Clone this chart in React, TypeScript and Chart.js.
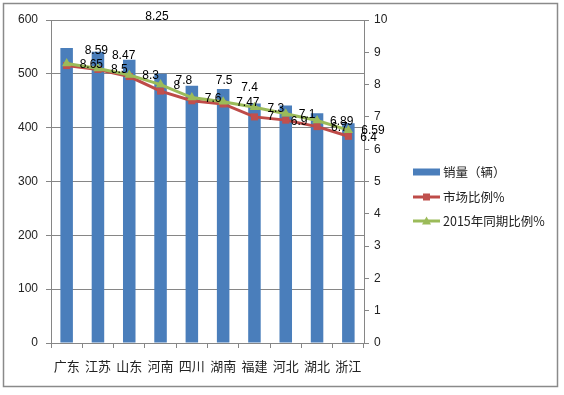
import React, { useEffect, useRef } from "react";
import { Chart, registerables } from "chart.js";

Chart.register(...registerables);

const categories = ["广东", "江苏", "山东", "河南", "四川", "湖南", "福建", "河北", "湖北", "浙江"];
const sales = [548, 541, 526, 500, 478, 472, 445, 441, 427, 408];
const marketShare = [8.59, 8.47, 8.25, 7.8, 7.5, 7.4, 7, 6.9, 6.7, 6.4];
const share2015 = [8.65, 8.5, 8.3, 8, 7.6, 7.47, 7.3, 7.1, 6.89, 6.59];
const seriesNames = ["销量（辆）", "市场比例%", "2015年同期比例%"];

const BLUE = "#4a7ebb";
const RED = "#be4b48";
const GREEN = "#9bbb59";

// label placement (offsets from each point) for the market share labels
const redLabelShift: [number, number][] = [
  [18, -15], [14, -14], [16, -60], [15, -10], [24, -20],
  [18, -16], [13, 0], [5, 2], [14, 1], [12, 1],
];

const frame = {
  id: "frame",
  beforeDraw(chart: any) {
    const { ctx, width, height } = chart;
    ctx.save();
    ctx.fillStyle = "#ffffff";
    ctx.fillRect(0, 0, width, height);
    ctx.strokeStyle = "#8a8a8a";
    ctx.lineWidth = 1.5;
    ctx.strokeRect(3.5, 3.5, 554, 383);
    ctx.restore();
  },
};

const pointLabels = {
  id: "pointLabels",
  afterDatasetsDraw(chart: any) {
    const ctx = chart.ctx;
    ctx.save();
    ctx.font = "12px 'Liberation Sans', Arial, sans-serif";
    ctx.fillStyle = "#000";
    ctx.textAlign = "left";
    ctx.textBaseline = "middle";
    const metaGreen = chart.getDatasetMeta(2);
    metaGreen.data.forEach((p: any, i: number) => {
      ctx.fillText(String(share2015[i]), p.x + 13, p.y + 1);
    });
    const metaRed = chart.getDatasetMeta(1);
    metaRed.data.forEach((p: any, i: number) => {
      const [dx, dy] = redLabelShift[i];
      ctx.fillText(String(marketShare[i]), p.x + dx, p.y + dy);
    });
    ctx.restore();
  },
};

const customLegend = {
  id: "customLegend",
  afterDraw(chart: any) {
    const ctx = chart.ctx;
    ctx.save();
    const x0 = 413;
    const ys = [172, 197, 221];
    ctx.font = "12.5px 'Noto Sans CJK SC', sans-serif";
    ctx.textBaseline = "middle";
    ctx.textAlign = "left";
    ctx.fillStyle = BLUE;
    ctx.fillRect(x0, ys[0] - 3.5, 27, 7);
    ctx.strokeStyle = RED;
    ctx.lineWidth = 3;
    ctx.beginPath();
    ctx.moveTo(x0, ys[1]);
    ctx.lineTo(x0 + 27, ys[1]);
    ctx.stroke();
    ctx.fillStyle = "#c0504d";
    ctx.fillRect(x0 + 10, ys[1] - 3.5, 7, 7);
    ctx.strokeStyle = GREEN;
    ctx.beginPath();
    ctx.moveTo(x0, ys[2]);
    ctx.lineTo(x0 + 27, ys[2]);
    ctx.stroke();
    ctx.fillStyle = GREEN;
    ctx.beginPath();
    ctx.moveTo(x0 + 13.5, ys[2] - 4.5);
    ctx.lineTo(x0 + 18, ys[2] + 3.5);
    ctx.lineTo(x0 + 9, ys[2] + 3.5);
    ctx.closePath();
    ctx.fill();
    ctx.fillStyle = "#222";
    seriesNames.forEach((n, i) => ctx.fillText(n, x0 + 30, ys[i]));
    ctx.restore();
  },
};

export default function App() {
  const ref = useRef<HTMLCanvasElement>(null);
  useEffect(() => {
    document.body.style.margin = "0";
    const chart = new Chart(ref.current!, {
      type: "bar",
      data: {
        labels: categories,
        datasets: [
          {
            type: "bar",
            label: seriesNames[0],
            data: sales,
            backgroundColor: BLUE,
            yAxisID: "y",
            order: 3,
            barPercentage: 0.4,
            categoryPercentage: 1,
          },
          {
            type: "line",
            label: seriesNames[1],
            data: marketShare,
            borderColor: RED,
            backgroundColor: "#c0504d",
            borderWidth: 3,
            pointStyle: "rect",
            pointRadius: 5,
            pointBorderWidth: 0,
            yAxisID: "y1",
            order: 2,
          },
          {
            type: "line",
            label: seriesNames[2],
            data: share2015,
            borderColor: GREEN,
            backgroundColor: GREEN,
            borderWidth: 3,
            pointStyle: "triangle",
            pointRadius: 5.5,
            pointBorderWidth: 0,
            yAxisID: "y1",
            order: 1,
          },
        ],
      } as any,
      options: {
        animation: false,
        responsive: false,
        layout: { padding: { top: 20, left: 0, right: 0, bottom: 0 } },
        plugins: { legend: { display: false }, tooltip: { enabled: false } },
        scales: {
          x: {
            offset: true,
            grid: {
              offset: true,
              drawOnChartArea: false,
              drawTicks: true,
              tickLength: 5,
              color: "#868686",
            },
            border: { color: "#868686" },
            ticks: {
              color: "#222",
              font: { family: "'Noto Sans CJK SC', sans-serif", size: 13 },
              padding: 10,
              maxRotation: 0,
              autoSkip: false,
            },
            afterFit: (s: any) => { s.height = 52; },
          },
          y: {
            position: "left",
            min: 0,
            max: 600,
            ticks: {
              stepSize: 100,
              color: "#222",
              font: { family: "'Liberation Sans', Arial, sans-serif", size: 12 },
              padding: 8,
            },
            grid: { color: "#868686", tickLength: 5, lineWidth: 1 },
            border: { color: "#868686" },
            afterFit: (s: any) => { s.width = 51; },
          },
          y1: {
            position: "right",
            min: 0,
            max: 10,
            ticks: {
              stepSize: 1,
              color: "#222",
              font: { family: "'Liberation Sans', Arial, sans-serif", size: 12 },
              padding: 5,
            },
            grid: { drawOnChartArea: false, color: "#868686", tickLength: 5 },
            border: { color: "#868686" },
            afterFit: (s: any) => { s.width = 200; },
          },
        },
      },
      plugins: [frame, pointLabels, customLegend],
    });
    return () => chart.destroy();
  }, []);
  return (
    <div style={{ width: 564, height: 395 }}>
      <canvas ref={ref} width={564} height={395} style={{ display: "block" }} />
    </div>
  );
}
